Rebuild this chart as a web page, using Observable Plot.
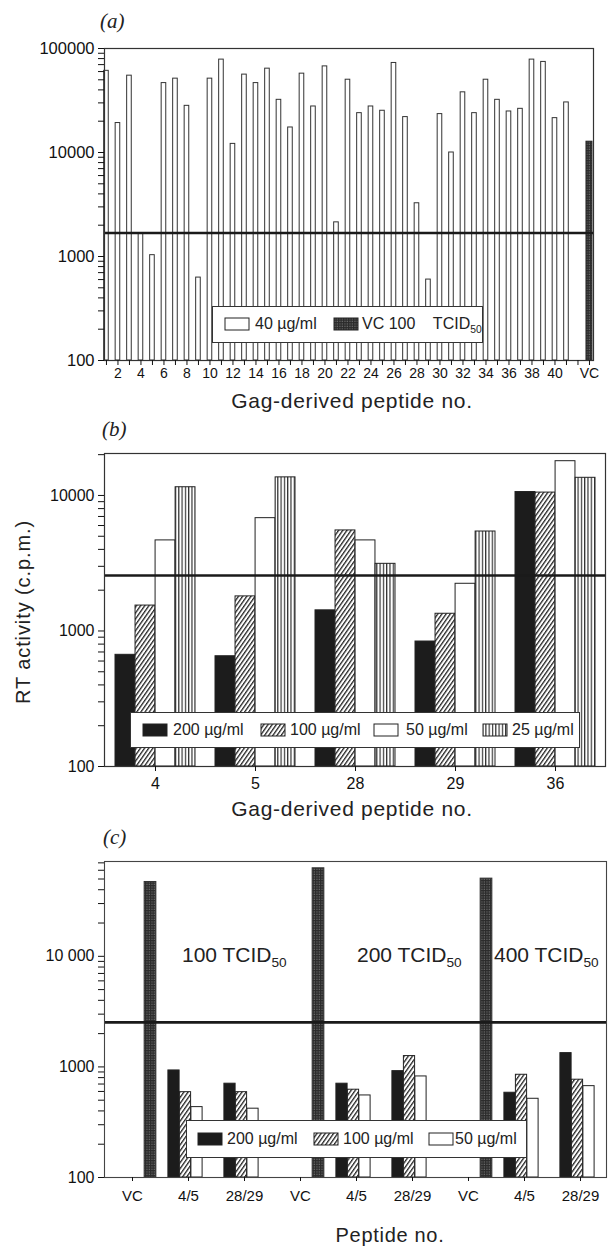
<!DOCTYPE html>
<html><head><meta charset="utf-8">
<script src="https://cdn.jsdelivr.net/npm/d3@7"></script>
<script src="https://cdn.jsdelivr.net/npm/@observablehq/plot@0.6"></script>
<style>
body{margin:0;background:#fff;font-family:"Liberation Sans",Arial,Helvetica,sans-serif;color:#222}
#wrap{position:relative;width:612px;height:1246px;overflow:hidden;background:#fff}
.panel{position:absolute;left:0}
.plab{position:absolute;font-family:"Liberation Serif","DejaVu Serif",serif;font-style:italic;font-size:21px;line-height:24px}
.xt{position:absolute;font-size:21px;letter-spacing:0.7px;white-space:nowrap;transform:translate(-50%,-50%);line-height:24px}
.yt{position:absolute;font-size:20px;letter-spacing:0.9px;white-space:nowrap;transform:translate(-50%,-50%) rotate(-90deg);line-height:24px}
.legend{position:absolute;background:#fff;border:1.5px solid #333;box-sizing:border-box}
.litem{position:absolute;font-size:16px;white-space:nowrap;transform:translateY(-50%);line-height:20px}
.sw{position:absolute;transform:translateY(-50%)}
.tc{position:absolute;font-size:21px;white-space:nowrap;line-height:24px}
.tc sub,.litem sub{font-size:0.65em;vertical-align:-0.35em;line-height:0}
</style>
</head><body>
<svg width="0" height="0" style="position:absolute">
<defs>
<pattern id="hatch" width="3.4" height="12" patternUnits="userSpaceOnUse" patternTransform="rotate(35)">
<rect width="3.4" height="12" fill="#fff"/><rect width="1.3" height="12" fill="#222"/>
</pattern>
<pattern id="vlines" width="3.3" height="10" patternUnits="userSpaceOnUse">
<rect width="3.3" height="10" fill="#fff"/><rect width="1.2" height="10" fill="#333"/>
</pattern>
<pattern id="gridpat" width="2.5" height="2.5" patternUnits="userSpaceOnUse">
<rect width="2.5" height="2.5" fill="#2b2b2b"/><rect x="1.4" y="1.4" width="0.9" height="0.9" fill="#a0a0a0"/>
</pattern>
</defs></svg>
<div id="wrap"></div>
<script>
// ---------- Panel (a) data ----------
const peptidesA = [1,2,3,4,5,6,7,8,9,10,11,12,13,14,15,16,17,18,19,20,21,22,23,24,25,26,27,28,29,30,31,32,33,34,35,36,37,38,39,40,41];
const valuesA = [61000,19200,54800,1650,1030,46500,51300,28100,627,51300,78200,12100,56100,46500,64000,32100,17400,57300,27700,67300,2130,50100,23900,27700,25200,72600,21900,3250,600,23400,10000,37900,23900,50100,32100,24800,26300,78200,74300,21400,30300];
const vcLabelA = "VC";
const vcValueA = 12700;
const thresholdA = 1680;
const xLabelsA = ["2","4","6","8","10","12","14","16","18","20","22","24","26","28","30","32","34","36","38","40","VC"];
const yLabelsA = ["100","1000","10000","100000"];
const legendA = ["40 µg/ml", "VC 100", "TCID", "50"];
const titleA = "Gag-derived peptide no.";

// ---------- Panel (b) data ----------
const groupsB = ["4","5","28","29","36"];
const concB = ["200 µg/ml","100 µg/ml","50 µg/ml","25 µg/ml"];
const b200 = [667, 651, 1420, 836, 10600];
const b100 = [1540, 1800, 5520, 1340, 10500];
const b50  = [4660, 6800, 4660, 2230, 17900];
const b25  = [11500, 13600, 3130, 5420, 13500];
const thresholdB = 2570;
const yLabelsB = ["100","1000","10000"];
const titleB = "Gag-derived peptide no.";
const yTitle = "RT activity (c.p.m.)";

// ---------- Panel (c) data ----------
const dosesC = ["100","200","400"];
const peptidesC = ["VC","4/5","28/29"];
const vcC = [47000, 62500, 50400];
const c200_45 = [929, 705, 584];
const c100_45 = [591, 622, 849];
const c50_45  = [433, 552, 515];
const c200_2829 = [705, 916, 1333];
const c100_2829 = [591, 1253, 766];
const c50_2829  = [419, 820, 670];
const thresholdC = 2530;
const yLabelsC = ["100","1000","10 000"];
const concC = ["200 µg/ml","100 µg/ml","50 µg/ml"];
const titleC = "Peptide no.";

// ---------- helpers ----------
const FONT = '"Liberation Sans", Arial, Helvetica, sans-serif';
const wrap = document.getElementById("wrap");
function logTicks(lo, hi){const t=[];for(let d=lo;d<=hi;d*=10){for(let k=1;k<10;k++){const v=k*d;if(v<=hi)t.push(v);}}return t;}
function place(svg, top, cls){const d=document.createElement("div");d.className="panel "+cls;d.style.top=top+"px";d.appendChild(svg);wrap.appendChild(d);}
function html(tag, cls, style, inner){const e=document.createElement(tag);e.className=cls;Object.assign(e.style,style);e.innerHTML=inner;wrap.appendChild(e);return e;}
function swatch(parent, left, top, fill, w=24, h=12){const ns="http://www.w3.org/2000/svg";const s=document.createElementNS(ns,"svg");s.setAttribute("width",w+2);s.setAttribute("height",h+2);s.setAttribute("class","sw");s.style.left=left+"px";s.style.top=top+"px";const r=document.createElementNS(ns,"rect");r.setAttribute("x",1);r.setAttribute("y",1);r.setAttribute("width",w);r.setAttribute("height",h);r.setAttribute("fill",fill);r.setAttribute("stroke","#222");r.setAttribute("stroke-width",1);s.appendChild(r);parent.appendChild(s);}
function label(parent, left, top, inner){const t=document.createElement("span");t.className="litem";t.style.left=left+"px";t.style.top=top+"px";t.innerHTML=inner;parent.appendChild(t);}
const baseStyle = {fontFamily: FONT, fontSize: "13px", color: "#111", background: "transparent", overflow: "visible"};
const yFmt = (labels) => { const m = new Map(labels.map(l => [Number(l.replace(/\s/g,"")), l])); return d => m.get(d) ?? ""; };

// ---------- Panel (a) ----------
{
  const dataA = peptidesA.map((p, i) => ({pos: p, v: valuesA[i]}));
  const vcPos = peptidesA.length + 2;
  const vcA = [{pos: vcPos, v: vcValueA}];
  const labelPos = new Map(xLabelsA.map(l => [l === vcLabelA ? vcPos : Number(l), l]));
  const xt = d3.range(1, vcPos + 1);
  const base = 100;
  const svg = Plot.plot({
    width: 612, height: 420, marginTop: 48, marginBottom: 60, marginLeft: 104, marginRight: 19,
    style: baseStyle,
    x: {type: "linear", domain: [0.83, 43.35]},
    y: {type: "log", domain: [100, 100000]},
    marks: [
      Plot.rectY(dataA, {x1: d => d.pos - 0.2, x2: d => d.pos + 0.2, y1: () => base, y2: "v", fill: "white", stroke: "#333", strokeWidth: 1}),
      Plot.rectY(vcA, {x1: d => d.pos - 0.26, x2: d => d.pos + 0.26, y1: () => base, y2: "v", fill: "url(#gridpat)", stroke: "#222", strokeWidth: 1}),
      Plot.ruleY([thresholdA], {stroke: "#1a1a1a", strokeWidth: 2.6}),
      Plot.frame({stroke: "#333", strokeWidth: 1.2}),
      Plot.axisY({ticks: logTicks(100, 100000), tickFormat: yFmt(yLabelsA), tickSize: 6, tickPadding: 4, fontSize: 16.5, label: null}),
      Plot.axisX({ticks: xt, tickFormat: d => labelPos.get(d) ?? "", tickSize: 5, tickPadding: 3, fontSize: 14, label: null})
    ]
  });
  place(svg, 0, "pa");
  html("div", "plab", {left: "100px", top: "9px"}, "(a)");
  html("div", "xt", {left: "352px", top: "401px"}, titleA);
  const lg = html("div", "legend", {left: "212px", top: "306px", width: "271px", height: "37px"}, "");
  swatch(lg, 11, 17, "white");
  label(lg, 42, 17, legendA[0]);
  swatch(lg, 120, 17, "url(#gridpat)");
  label(lg, 149, 17, legendA[1] + "&nbsp;&nbsp;&nbsp; " + legendA[2] + "<sub>" + legendA[3] + "</sub>");
}

// ---------- Panel (b) ----------
{
  const base = 100;
  const series = [b200, b100, b50, b25];
  const fills = ["#1c1c1c", "url(#hatch)", "white", "url(#vlines)"];
  const barW = 20.04;
  const bw = barW * 4;
  const barMarks = series.map((vals, k) => Plot.barY(groupsB.map((g, i) => ({g, v: vals[i]})), {
    x: "g", y1: () => base, y2: "v", insetLeft: k * barW, insetRight: bw - (k + 1) * barW,
    fill: fills[k], stroke: "#222", strokeWidth: 1
  }));
  const svg = Plot.plot({
    width: 612, height: 400, marginTop: 33, marginBottom: 54, marginLeft: 104, marginRight: 7,
    style: baseStyle,
    x: {type: "band", domain: groupsB, paddingInner: 0.2, paddingOuter: 0.1},
    y: {type: "log", domain: [100, 20400]},
    marks: [
      ...barMarks,
      Plot.ruleY([thresholdB], {stroke: "#1a1a1a", strokeWidth: 2.6}),
      Plot.frame({stroke: "#333", strokeWidth: 1.2}),
      Plot.axisY({ticks: logTicks(100, 20400), tickFormat: yFmt(yLabelsB), tickSize: 6, tickPadding: 4, fontSize: 16, label: null}),
      Plot.axisX({tickSize: 5, tickPadding: 6, fontSize: 16, label: null})
    ]
  });
  place(svg, 420, "pb");
  html("div", "plab", {left: "102px", top: "417px"}, "(b)");
  html("div", "xt", {left: "352px", top: "809px"}, titleB);
  html("div", "yt", {left: "23px", top: "612px"}, yTitle);
  const lg = html("div", "legend", {left: "130px", top: "712px", width: "450px", height: "36px"}, "");
  const sx = [11, 129, 242, 351], lx = [42, 159, 275, 381];
  concB.forEach((c, k) => { swatch(lg, sx[k], 17, fills[k]); label(lg, lx[k], 17, c); });
}

// ---------- Panel (c) ----------
{
  const base = 100;
  const keys = dosesC.flatMap(d => peptidesC.map(p => d + " " + p));
  const range = [102.85, 609.55];
  const bw = (range[1] - range[0]) / keys.length;
  const groupSets = [["4/5", c200_45, c100_45, c50_45], ["28/29", c200_2829, c100_2829, c50_2829]];
  const rows = [[], [], []];
  dosesC.forEach((dose, j) => {
    groupSets.forEach(([p, a200, a100, a50]) => {
      [a200, a100, a50].forEach((arr, k) => rows[k].push({key: dose + " " + p, v: arr[j]}));
    });
  });
  const vcRows = dosesC.map((dose, j) => ({key: dose + " VC", v: vcC[j]}));
  const fills = ["#1c1c1c", "url(#hatch)", "white"];
  const barW = 11.5, shift = -3, vcW = 12, vcShift = 18;
  const left0 = bw / 2 + shift - 1.5 * barW;
  const barMarks = rows.map((r, k) => Plot.barY(r, {
    x: "key", y1: () => base, y2: "v", insetLeft: left0 + k * barW, insetRight: bw - left0 - (k + 1) * barW,
    fill: fills[k], stroke: "#222", strokeWidth: 1
  }));
  const vcL = bw / 2 + vcShift - vcW / 2;
  const svg = Plot.plot({
    width: 612, height: 426, marginTop: 41, marginBottom: 69, marginLeft: 104, marginRight: 6,
    style: baseStyle,
    x: {type: "band", domain: keys, range, padding: 0},
    y: {type: "log", domain: [100, 72000]},
    marks: [
      Plot.barY(vcRows, {x: "key", y1: () => base, y2: "v", insetLeft: vcL, insetRight: bw - vcL - vcW, fill: "url(#gridpat)", stroke: "#333", strokeWidth: 1}),
      ...barMarks,
      Plot.ruleY([thresholdC], {stroke: "#1a1a1a", strokeWidth: 2.6}),
      Plot.frame({stroke: "#444", strokeWidth: 1.1}),
      Plot.axisY({ticks: logTicks(100, 72000), tickFormat: yFmt(yLabelsC), tickSize: 6, tickPadding: 4, fontSize: 16, label: null}),
      Plot.axisX({tickSize: 4, tickPadding: 9, fontSize: 15, tickFormat: d => d.split(" ")[1], label: null})
    ]
  });
  place(svg, 820, "pc");
  html("div", "plab", {left: "103px", top: "825px"}, "(c)");
  html("div", "xt", {left: "390px", top: "1235px", fontSize: "20px"}, titleC);
  const tcLeft = [182, 357, 494];
  dosesC.forEach((d, j) => html("div", "tc", {left: tcLeft[j] + "px", top: "943px"}, d + " TCID<sub>50</sub>"));
  const lg = html("div", "legend", {left: "186px", top: "1120px", width: "341px", height: "38px"}, "");
  const sx = [10, 126, 241], lx = [40, 156, 268];
  concC.forEach((c, k) => { swatch(lg, sx[k], 18, fills[k]); label(lg, lx[k], 18, c); });
}
</script>
</body></html>
